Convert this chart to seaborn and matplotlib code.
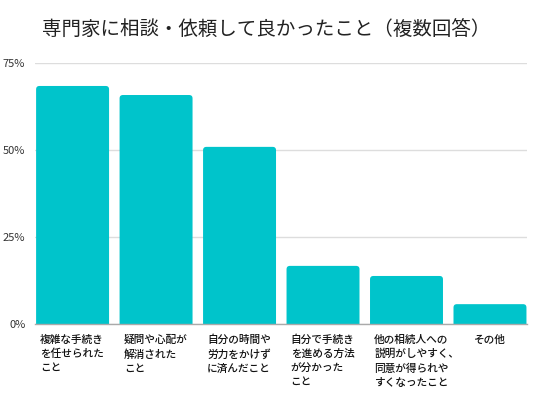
import matplotlib
matplotlib.use('Agg')
import matplotlib.pyplot as plt
import matplotlib.transforms as mtransforms
from matplotlib.patches import FancyBboxPatch
import pandas as pd
import seaborn as sns

# Data
categories = [
    '複雑な手続き\nを任せられた\nこと',
    '疑問や心配が\n解消された\nこと',
    '自分の時間や\n労力をかけず\nに済んだこと',
    '自分で手続き\nを進める方法\nが分かった\nこと',
    '他の相続人への\n説明がしやすく、\n同意が得られや\nすくなったこと',
    'その他',
]
percent = [68.4, 65.8, 50.9, 16.7, 13.8, 5.7]
yticks = [0, 25, 50, 75]
ytick_labels = ['0%', '25%', '50%', '75%']
title = '専門家に相談・依頼して良かったこと（複数回答）'

bar_color = '#00C4CB'

sns.set_style('white')
plt.rcParams['font.family'] = ['Noto Sans CJK JP', 'DejaVu Sans']

df = pd.DataFrame({'category': categories, 'percent': percent})

fig = plt.figure(figsize=(5.33, 4.0), dpi=100)
ax = fig.add_axes([0.0657, 0.19, 0.9225, 0.6525])

bar_w = 0.874
sns.barplot(data=df, x='category', y='percent', color=bar_color,
            width=bar_w, saturation=1, ax=ax, zorder=2)

# swap plain rectangles for boxes with slightly rounded tops
for p in list(ax.patches):
    x0, w, h = p.get_x(), p.get_width(), p.get_height()
    p.remove()
    box = FancyBboxPatch((x0, -2), w, h + 2,
                         boxstyle='round,pad=0,rounding_size=0.04',
                         mutation_aspect=24, facecolor=bar_color,
                         edgecolor='none', zorder=2)
    ax.add_patch(box)

ax.set_xlim(-0.45, 5.44)
ax.set_ylim(0, 75)
ax.set_yticks(yticks)
ax.set_yticklabels(ytick_labels, fontsize=8, color='#333333')
ax.tick_params(axis='y', length=0, pad=7)
ax.set_xticks([])
ax.set_xlabel('')
ax.set_ylabel('')
ax.grid(axis='y', color='#dddddd', linewidth=1, zorder=0)
for side in ['top', 'right', 'left']:
    ax.spines[side].set_visible(False)
ax.spines['bottom'].set_color('#aaaaaa')
ax.spines['bottom'].set_linewidth(1)
ax.spines['bottom'].set_zorder(3)

# category labels, left-aligned under each bar
trans = mtransforms.blended_transform_factory(ax.transData, ax.transAxes)
for i, lab in enumerate(categories):
    ha = 'left'
    xpos = i - bar_w / 2 + 0.05
    if lab == 'その他':
        ha = 'center'
        xpos = i
    ax.text(xpos, -0.04, lab, transform=trans, ha=ha, va='top',
            fontsize=7.7, color='#111111', linespacing=1.5,
            fontweight='medium')

fig.text(0.079, 0.925, title, fontsize=14, color='#222222', va='center')

fig.savefig('out.png', dpi=100, facecolor='white')
